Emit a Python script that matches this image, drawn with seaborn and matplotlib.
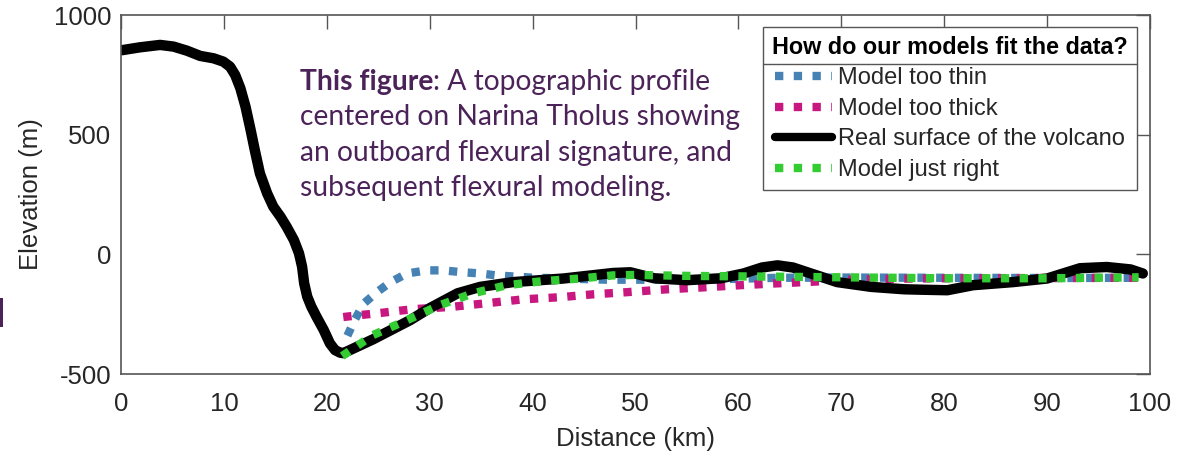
import numpy as np
import pandas as pd
import matplotlib
matplotlib.use("Agg")
import matplotlib.pyplot as plt
from matplotlib.lines import Line2D
from matplotlib.patches import Rectangle
import seaborn as sns

# ---- data ----
real_x = [0.1, 1.85, 3.8, 5.1, 6.4, 7.7, 9.0, 9.95, 10.6, 11.1, 11.6, 12.1, 12.6,
          13.0, 13.5, 14.2, 14.8, 15.5, 16.1, 16.8, 17.3, 17.6, 17.8, 18.1, 18.5,
          19.0, 19.7, 20.3, 20.8, 21.3, 21.6, 24.5, 28.1, 30, 32.7, 34.9, 38.1, 43,
          47.8, 49.5, 51.8, 55, 58.3, 60.5, 62.3, 63.8, 65.3, 66.7, 69.6, 72.9,
          76.1, 78, 80.3, 82.8, 86.7, 90, 93.2, 95.8, 98.1, 99.3]
real_y = [853, 865, 875, 868, 851, 829, 819, 805, 784, 749, 694, 617, 519,
          436, 338, 255, 199, 157, 115, 60, 4, -52, -121, -177, -219,
          -261, -316, -372, -400, -411, -413, -355, -275, -225, -163, -136, -116, -101,
          -78, -75, -100, -108, -100, -80, -55, -46, -55, -75, -116, -136,
          -146, -148, -150, -129, -116, -101, -58, -53, -63, -80]

thin_x = [22, 22.7, 23.6, 24.9, 26.2, 27.8, 29.7, 31.3, 33, 34.9, 36.5, 39.8, 43,
          47.2, 52, 58, 64, 70, 80, 90, 98.9]
thin_y = [-340, -275, -205, -157, -116, -80, -67, -67, -74, -80, -88, -97, -101,
          -106, -106, -104, -98, -97, -98, -99, -98]

thick_x = [21.6, 23.2, 25.2, 26.8, 28.4, 32, 35.6, 39.1, 42.7, 45.9, 49.2, 53.1,
           56.6, 60.2, 63.4, 67, 70.6, 75, 80, 90, 98.9]
thick_y = [-262, -254, -245, -237, -229, -220, -204, -188, -179, -167, -158, -146,
           -138, -129, -122, -115, -106, -102, -100, -99, -98]

right_x = [21.5, 24.5, 27.8, 31.0, 34.2, 37.5, 41.0, 44.6, 47.8, 50, 55, 60, 65,
           70, 80, 90, 98.9]
right_y = [-425, -337, -275, -212, -163, -129, -112, -101, -88, -86, -90, -92, -94,
           -96, -100, -100, -96]

xticks = [0, 10, 20, 30, 40, 50, 60, 70, 80, 90, 100]
yticks = [-500, 0, 500, 1000]

note_bold = "This figure"
note_lines = [": A topographic profile",
              "centered on Narina Tholus showing",
              "an outboard flexural signature, and",
              "subsequent flexural modeling."]

sns.set_style("white")
plt.rcParams["font.family"] = ["Liberation Sans", "DejaVu Sans"]
plt.rcParams["axes.unicode_minus"] = False

fig = plt.figure(figsize=(12.04, 4.58), dpi=100)
ax = fig.add_axes([121 / 1204, 1 - 374 / 458, 1029 / 1204, 359 / 458])

dot = (0, (1, 1.25))
sns.lineplot(x=thin_x, y=thin_y, ax=ax, color="#4682b4", lw=6, linestyle=dot,
             sort=False, estimator=None, label="Model too thin")
sns.lineplot(x=thick_x, y=thick_y, ax=ax, color="#c8177f", lw=6, linestyle=dot,
             sort=False, estimator=None, label="Model too thick")
sns.lineplot(x=real_x, y=real_y, ax=ax, color="black", lw=7.5, sort=False,
             estimator=None, label="Real surface of the volcano")
sns.lineplot(x=right_x, y=right_y, ax=ax, color="#33cc33", lw=6, linestyle=dot,
             sort=False, estimator=None, label="Model just right")
for ln in ax.get_lines():
    ln.set_dash_capstyle("butt")
    ln.set_solid_capstyle("round")
    ln.set_solid_joinstyle("round")

ax.set_xlim(0, 100)
ax.set_ylim(-500, 1000)
ax.set_xticks(xticks)
ax.set_yticks(yticks)
ax.tick_params(direction="in", length=10, width=1, color="#555555",
               labelsize=18.5, labelcolor="#262626", top=True, right=True,
               labeltop=False, labelright=False)
ax.tick_params(axis="x", pad=13)
ax.tick_params(axis="y", pad=7)
for s in ax.spines.values():
    s.set_visible(True)
    s.set_color("#555555")
    s.set_linewidth(1.2)
ax.set_xlabel("Distance (km)", fontsize=18.5, color="#262626", labelpad=8)
ax.set_ylabel("Elevation (m)", fontsize=18.5, color="#262626", labelpad=8)

leg = ax.legend(loc="upper right", bbox_to_anchor=(1016 / 1029, 1 - 12 / 359),
                title="How do our models fit the data?", fontsize=17,
                title_fontproperties={"weight": "bold", "size": 16.8},
                frameon=True, fancybox=False, framealpha=1, edgecolor="#555555",
                handlelength=2.4, handletextpad=0.25, labelspacing=0.36,
                borderpad=0.38, borderaxespad=0)
leg.get_frame().set_linewidth(1)
for h in leg.legend_handles:
    h.set_linewidth(6)
leg.get_title().set_color("black")

# annotation text
purple = "#4b2358"
fam = ["Lato", "DejaVu Sans"]
fs = 20.3
tx, ty = 300 / 1204, 1 - 82 / 458
t1 = fig.text(tx, ty, note_bold, fontsize=fs, fontweight="bold", color=purple,
              family=fam, va="center")
fig.canvas.draw()
bb = t1.get_window_extent()
fig.text(bb.x1 / 1204, ty, note_lines[0], fontsize=fs, color=purple,
         family=fam, va="center")
for i, line in enumerate(note_lines[1:]):
    fig.text(tx, ty - (i + 1) * 35.5 / 458, line, fontsize=fs, color=purple,
             family=fam, va="center")

# purple mark on the left edge
fig.add_artist(Rectangle((0, 1 - 327 / 458), 3 / 1204, 29 / 458,
                         transform=fig.transFigure, color=purple, lw=0))

# separator under the legend title
fig.canvas.draw()
lb = leg.get_window_extent()
tb = leg.get_title().get_window_extent()
ysep = tb.y0 - 5
fig.add_artist(Line2D([lb.x0 / 1204, lb.x1 / 1204], [ysep / 458, ysep / 458],
                      transform=fig.transFigure, color="#555555", lw=1))

fig.savefig("out.png", dpi=100)
